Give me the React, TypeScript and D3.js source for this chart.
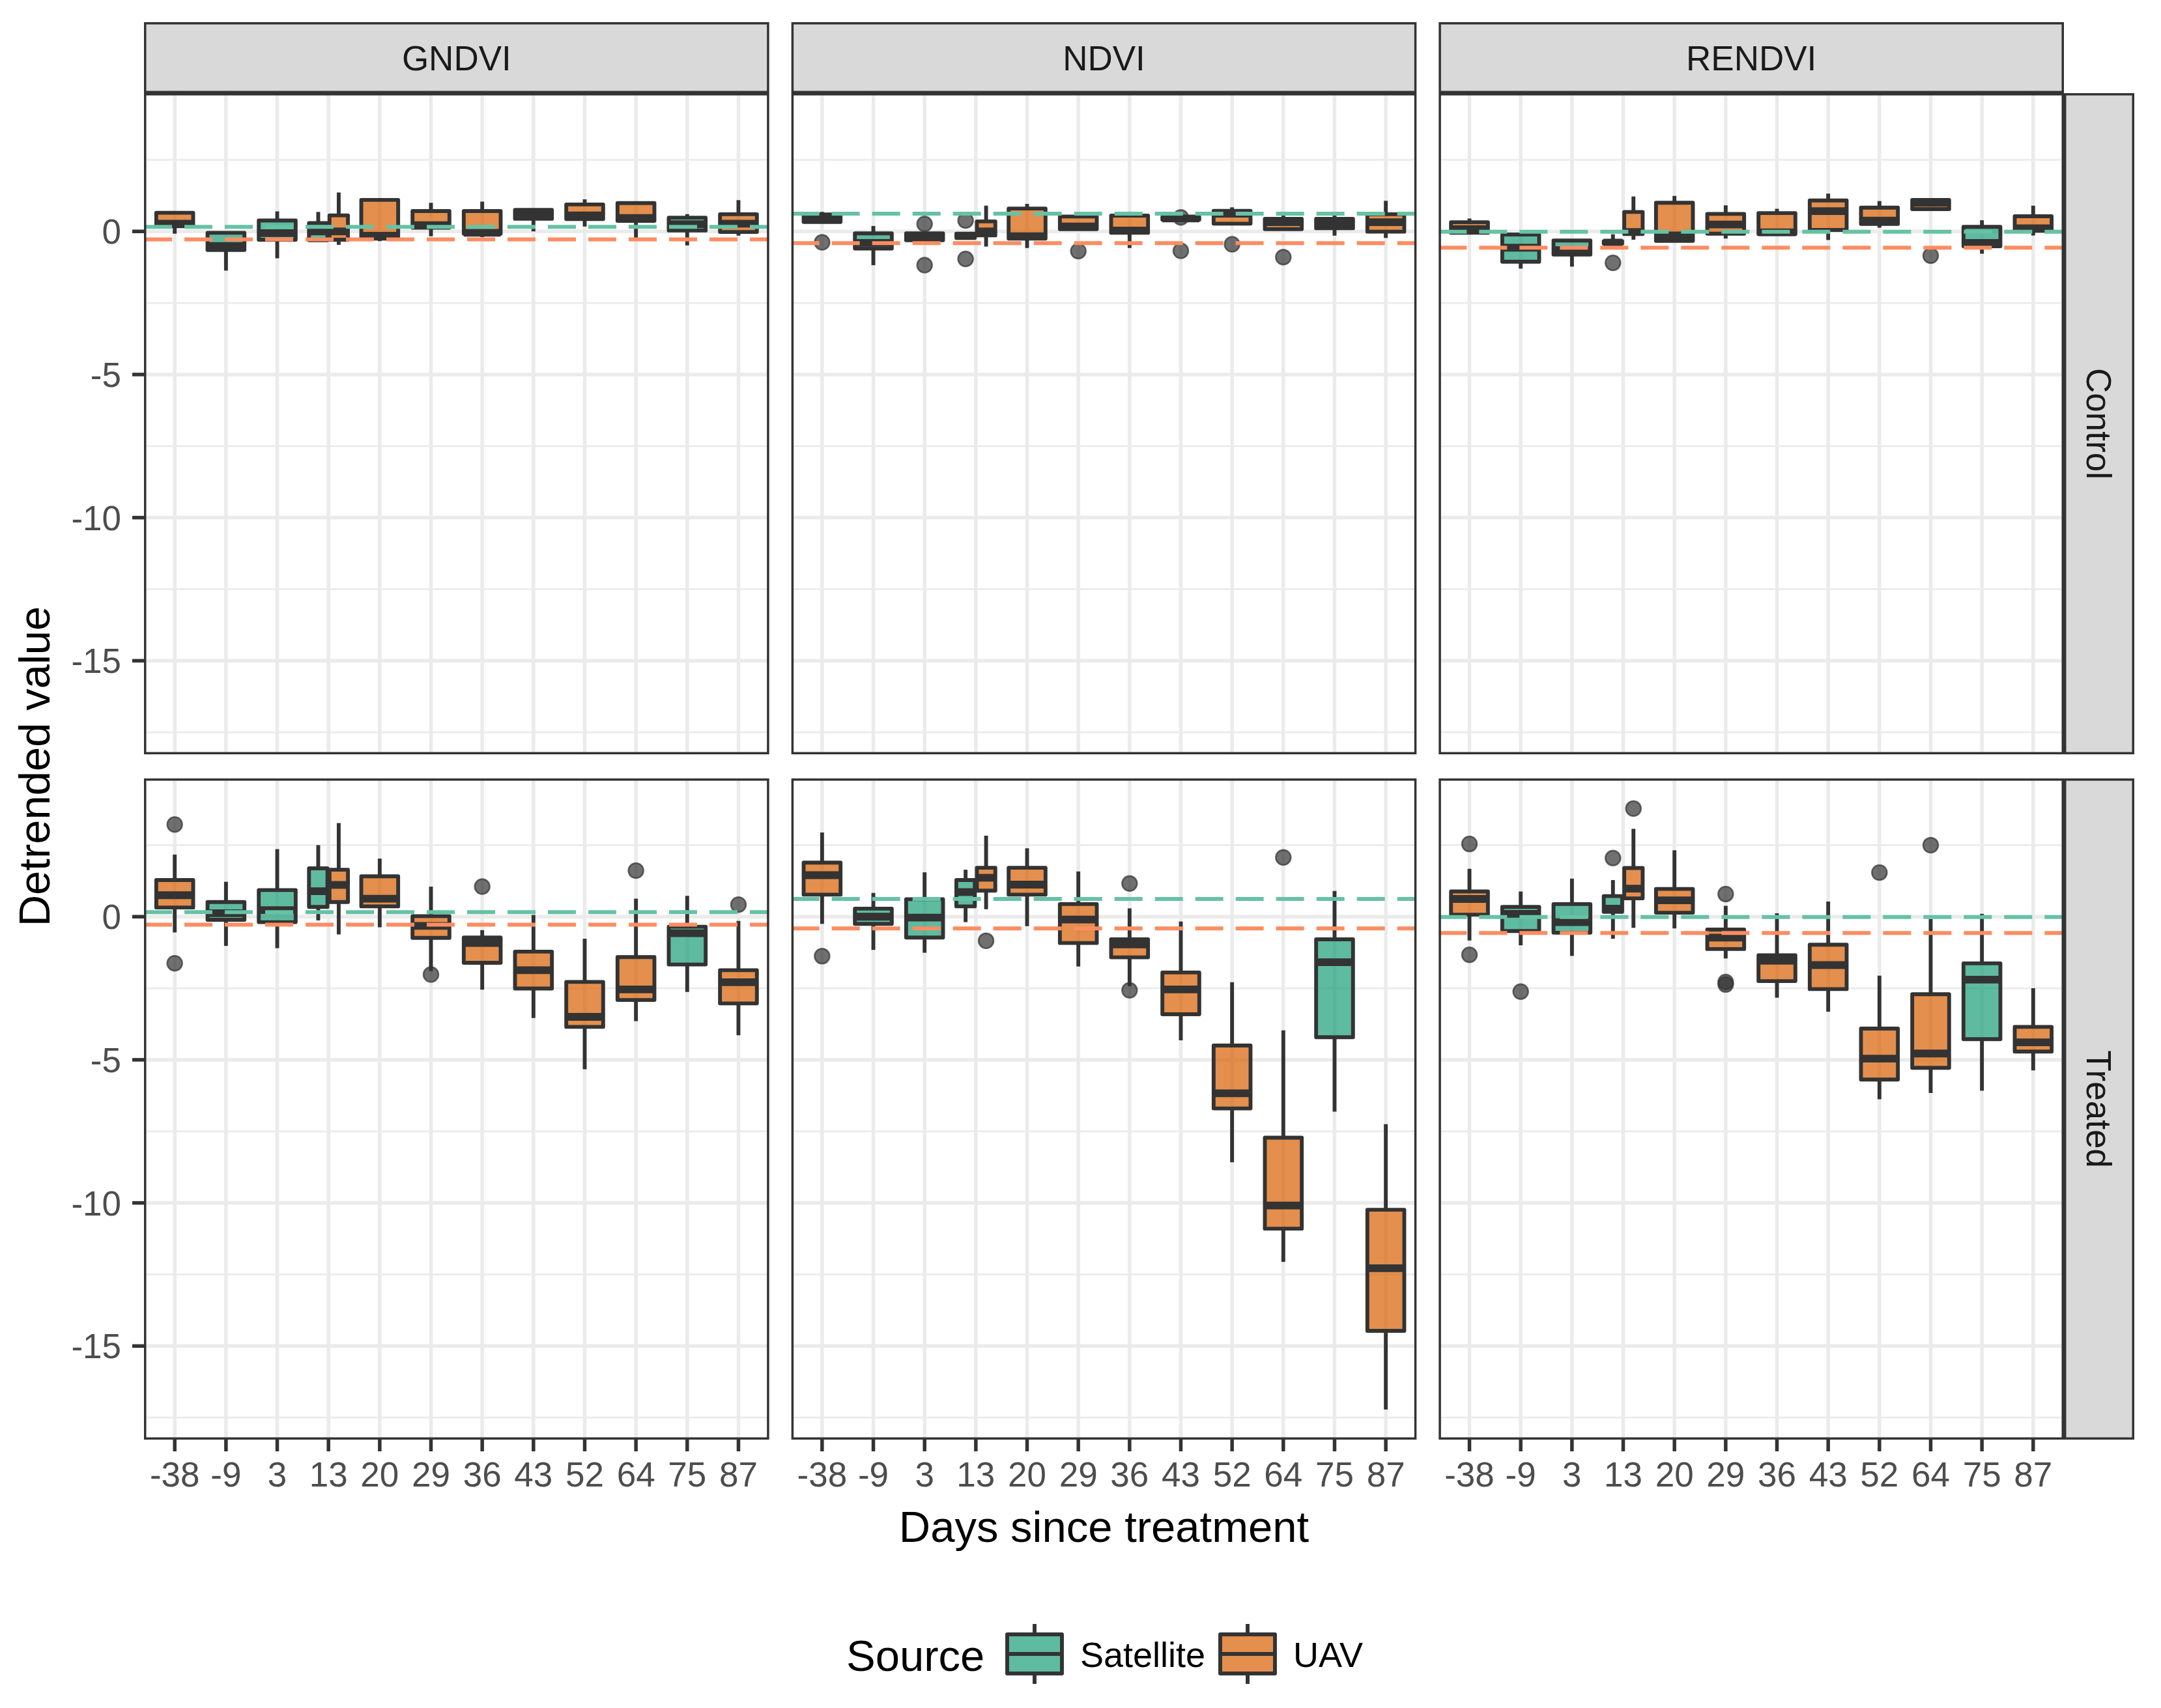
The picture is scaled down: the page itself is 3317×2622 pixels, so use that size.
import React from "react";
import * as d3 from "d3";

// ---------- data ----------
const days = ["-38", "-9", "3", "13", "20", "29", "36", "43", "52", "64", "75", "87"];
const indices = ["GNDVI", "NDVI", "RENDVI"];
const treatments = ["Control", "Treated"];
const sources = ["Satellite", "UAV"];
const sourceFill = ["#1B9E77", "#D95F02"];
const meanLineColor = ["#66C2A5", "#FC8D62"];
const meanSatellite = [0.16, 0.62, -0.01];
const meanUAV = [-0.28, -0.41, -0.57];
const yTicks = [-15, -10, -5, 0];
const yMinorTicks = [-17.5, -12.5, -7.5, -2.5, 2.5];

// [day, source, lower whisker, q1, median, q3, upper whisker, outliers]
type Box = [string, string, number, number, number, number, number, number[]];

const gndviControl: Box[] = [
  ["-38", "UAV", -0.08, 0.18, 0.27, 0.65, 0.65, []],
  ["-9", "Satellite", -1.37, -0.65, -0.51, -0.05, -0.05, []],
  ["3", "Satellite", -0.94, -0.29, -0.06, 0.38, 0.7, []],
  ["13", "Satellite", -0.31, -0.31, 0.0, 0.29, 0.68, []],
  ["13", "UAV", -0.47, -0.29, 0.0, 0.56, 1.36, []],
  ["20", "UAV", -0.34, -0.25, -0.15, 1.1, 1.1, []],
  ["29", "UAV", -0.17, 0.13, 0.22, 0.71, 1.0, []],
  ["36", "UAV", -0.2, -0.08, -0.05, 0.71, 1.04, []],
  ["43", "UAV", 0.0, 0.44, 0.6, 0.75, 0.75, []],
  ["52", "UAV", 0.17, 0.43, 0.56, 0.94, 1.12, []],
  ["64", "UAV", -0.23, 0.37, 0.47, 0.99, 0.99, []],
  ["75", "Satellite", -0.49, 0.03, 0.25, 0.48, 0.6, []],
  ["87", "UAV", -0.15, -0.02, 0.27, 0.6, 1.09, []],
];

const ndviControl: Box[] = [
  ["-38", "UAV", 0.33, 0.33, 0.46, 0.59, 0.68, [-0.38]],
  ["-9", "Satellite", -1.18, -0.6, -0.4, -0.07, 0.19, []],
  ["3", "Satellite", -0.31, -0.31, -0.19, -0.07, -0.07, [0.26, -1.18]],
  ["13", "Satellite", -0.23, -0.23, -0.16, -0.08, -0.08, [0.38, -0.96]],
  ["13", "UAV", -0.53, -0.14, 0.0, 0.35, 0.9, []],
  ["20", "UAV", -0.58, -0.25, -0.17, 0.8, 0.96, []],
  ["29", "UAV", 0.08, 0.08, 0.17, 0.52, 0.52, [-0.69]],
  ["36", "UAV", -0.58, -0.05, 0.03, 0.55, 0.69, []],
  ["43", "UAV", 0.41, 0.41, 0.45, 0.5, 0.5, [0.49, -0.68]],
  ["52", "UAV", 0.27, 0.27, 0.62, 0.72, 0.84, [-0.45]],
  ["64", "UAV", 0.08, 0.08, 0.32, 0.44, 0.55, [-0.9]],
  ["75", "Satellite", -0.15, 0.11, 0.28, 0.44, 0.55, []],
  ["87", "UAV", -0.23, -0.01, 0.32, 0.6, 1.07, []],
];

const rendviControl: Box[] = [
  ["-38", "UAV", -0.05, -0.05, 0.08, 0.32, 0.45, []],
  ["-9", "Satellite", -1.3, -1.06, -0.57, -0.11, -0.11, []],
  ["3", "Satellite", -1.23, -0.81, -0.65, -0.32, -0.32, []],
  ["13", "Satellite", -0.43, -0.43, -0.39, -0.34, -0.1, [-1.1]],
  ["13", "UAV", -0.29, -0.09, -0.02, 0.68, 1.22, []],
  ["20", "UAV", -0.33, -0.33, -0.14, 1.0, 1.24, []],
  ["29", "UAV", -0.25, -0.08, 0.24, 0.61, 0.91, []],
  ["36", "UAV", -0.09, -0.09, -0.03, 0.64, 0.79, []],
  ["43", "UAV", -0.3, 0.05, 0.71, 1.08, 1.32, []],
  ["52", "UAV", 0.13, 0.26, 0.38, 0.83, 1.06, []],
  ["64", "UAV", 0.78, 0.78, 1.0, 1.1, 1.1, [-0.85]],
  ["75", "Satellite", -0.78, -0.52, -0.4, 0.16, 0.39, []],
  ["87", "UAV", -0.14, 0.02, 0.11, 0.53, 0.9, []],
];

const gndviTreated: Box[] = [
  ["-38", "UAV", -0.55, 0.32, 0.75, 1.28, 2.17, [3.22, -1.63]],
  ["-9", "Satellite", -1.02, -0.11, 0.12, 0.51, 1.22, []],
  ["3", "Satellite", -1.1, -0.19, 0.23, 0.93, 2.36, []],
  ["13", "Satellite", -0.13, 0.34, 0.89, 1.69, 2.5, []],
  ["13", "UAV", -0.62, 0.51, 1.11, 1.64, 3.27, []],
  ["20", "UAV", -0.37, 0.36, 0.63, 1.41, 2.03, []],
  ["29", "UAV", -1.9, -0.74, -0.32, 0.02, 1.05, [-2.02]],
  ["36", "UAV", -2.55, -1.61, -0.92, -0.73, -0.47, [1.05]],
  ["43", "UAV", -3.54, -2.51, -1.87, -1.22, 0.06, []],
  ["52", "UAV", -5.33, -3.85, -3.5, -2.28, -0.77, []],
  ["64", "UAV", -3.65, -2.91, -2.54, -1.41, 0.63, [1.61]],
  ["75", "Satellite", -2.63, -1.67, -0.58, -0.35, 0.73, []],
  ["87", "UAV", -4.14, -3.03, -2.29, -1.87, -0.15, [0.42]],
];

const ndviTreated: Box[] = [
  ["-38", "UAV", -0.25, 0.77, 1.45, 1.89, 2.94, [-1.38]],
  ["-9", "Satellite", -1.16, -0.25, 0.0, 0.28, 0.83, []],
  ["3", "Satellite", -1.26, -0.73, -0.03, 0.61, 1.55, []],
  ["13", "Satellite", -0.19, 0.36, 0.86, 1.28, 1.64, []],
  ["13", "UAV", 0.26, 0.91, 1.36, 1.71, 2.83, [-0.84]],
  ["20", "UAV", -0.33, 0.77, 1.12, 1.71, 2.39, []],
  ["29", "UAV", -1.74, -0.92, -0.1, 0.44, 1.58, []],
  ["36", "UAV", -2.43, -1.42, -0.97, -0.79, 0.29, [1.16, -2.57]],
  ["43", "UAV", -4.32, -3.41, -2.54, -1.95, -0.17, []],
  ["52", "UAV", -8.58, -6.7, -6.17, -4.5, -2.29, []],
  ["64", "UAV", -12.06, -10.9, -10.09, -7.72, -3.97, [2.07]],
  ["75", "Satellite", -6.81, -4.21, -1.59, -0.79, 0.9, []],
  ["87", "UAV", -17.22, -14.47, -12.28, -10.24, -7.25, []],
];

const rendviTreated: Box[] = [
  ["-38", "UAV", -0.83, 0.07, 0.62, 0.88, 1.67, [2.54, -1.33]],
  ["-9", "Satellite", -1.0, -0.5, 0.1, 0.34, 0.88, [-2.62]],
  ["3", "Satellite", -1.37, -0.56, -0.19, 0.44, 1.33, []],
  ["13", "Satellite", -0.77, 0.17, 0.28, 0.72, 1.28, [2.05]],
  ["13", "UAV", -0.39, 0.64, 0.98, 1.7, 3.07, [3.78]],
  ["20", "UAV", -0.41, 0.14, 0.57, 0.97, 2.32, []],
  ["29", "UAV", -1.46, -1.13, -0.73, -0.45, 0.38, [0.79, -2.28, -2.37]],
  ["36", "UAV", -2.83, -2.25, -1.54, -1.35, 0.12, []],
  ["43", "UAV", -3.32, -2.53, -1.69, -0.98, 0.53, []],
  ["52", "UAV", -6.38, -5.69, -4.96, -3.91, -2.06, [1.54]],
  ["64", "UAV", -6.16, -5.28, -4.78, -2.71, -0.08, [2.5]],
  ["75", "Satellite", -6.08, -4.28, -2.2, -1.63, 0.1, []],
  ["87", "UAV", -5.37, -4.71, -4.39, -3.85, -2.5, []],
];

const panels: Box[][][] = [
  [gndviControl, ndviControl, rendviControl],
  [gndviTreated, ndviTreated, rendviTreated],
];

// ---------- layout ----------
const W = 3317;
const H = 2622;
const plotLeft = 221;
const plotRight = 3168;
const colGap = 34;
const panelW = (plotRight - plotLeft - 2 * colGap) / 3;
const plotTop = 143;
const plotBottom = 2210;
const rowGap = 37;
const panelH = (plotBottom - plotTop - rowGap) / 2;
const stripH = 109;
const stripW = 108;
const font = "'Liberation Sans', Arial, Helvetica, sans-serif";
const dark = "#333333";
const grid = "#EBEBEB";

const allVals: number[] = [];
panels.flat().flat().forEach((b) => {
  allVals.push(b[2], b[6], ...b[7]);
});
const [vMin, vMax] = d3.extent(allVals) as [number, number];
const pad = (vMax - vMin) * 0.05;

const x = d3.scalePoint<string>().domain(days).range([0, panelW]).padding(0.6);
const y = d3.scaleLinear().domain([vMin - pad, vMax + pad]).range([panelH, 0]);
const step = x.step();

function Panel({ data, col, row }: { data: Box[]; col: number; row: number }) {
  const px = plotLeft + col * (panelW + colGap);
  const py = plotTop + row * (panelH + rowGap);
  const clipId = `clip-${row}-${col}`;
  const dash = "43 19";
  return (
    <g transform={`translate(${px},${py})`}>
      <defs>
        <clipPath id={clipId}>
          <rect x={0} y={0} width={panelW} height={panelH} />
        </clipPath>
      </defs>
      <g clipPath={`url(#${clipId})`}>
        <rect x={0} y={0} width={panelW} height={panelH} fill="#FFFFFF" />
        {yMinorTicks.map((t) => (
          <line key={`mi${t}`} x1={0} x2={panelW} y1={y(t)} y2={y(t)} stroke={grid} strokeWidth={2.75} />
        ))}
        {yTicks.map((t) => (
          <line key={`ma${t}`} x1={0} x2={panelW} y1={y(t)} y2={y(t)} stroke={grid} strokeWidth={5.5} />
        ))}
        {days.map((d) => (
          <line key={`v${d}`} x1={x(d)} x2={x(d)} y1={0} y2={panelH} stroke={grid} strokeWidth={5.5} />
        ))}
        {data.map((b, i) => {
          const [day, src, lo, q1, med, q3, hi, outs] = b;
          const sibs = data.filter((o) => o[0] === day).sort((a, c) => sources.indexOf(a[1]) - sources.indexOf(c[1]));
          const n = sibs.length;
          const k = sibs.indexOf(b);
          const total = 0.8 * step;
          const slot = total / n;
          const cx = (x(day) as number) - total / 2 + slot * (k + 0.5);
          const bw = slot * 0.9;
          const si = sources.indexOf(src);
          return (
            <g key={i}>
              {outs.map((o, j) => (
                <circle key={j} cx={cx} cy={y(o)} r={11.5} fill={dark} fillOpacity={0.7} stroke={dark} strokeOpacity={0.7} strokeWidth={2.5} />
              ))}
              <line x1={cx} x2={cx} y1={y(hi)} y2={y(q3)} stroke={dark} strokeWidth={5.9} />
              <line x1={cx} x2={cx} y1={y(q1)} y2={y(lo)} stroke={dark} strokeWidth={5.9} />
              <rect x={cx - bw / 2} y={y(q3)} width={bw} height={Math.max(0, y(q1) - y(q3))} fill={sourceFill[si]} fillOpacity={0.7} stroke={dark} strokeWidth={5.9} strokeLinejoin="round" />
              <line x1={cx - bw / 2} x2={cx + bw / 2} y1={y(med)} y2={y(med)} stroke={dark} strokeWidth={11.8} />
            </g>
          );
        })}
        <line x1={0} x2={panelW} y1={y(meanSatellite[col])} y2={y(meanSatellite[col])} stroke={meanLineColor[0]} strokeWidth={6} strokeDasharray={dash} />
        <line x1={0} x2={panelW} y1={y(meanUAV[col])} y2={y(meanUAV[col])} stroke={meanLineColor[1]} strokeWidth={6} strokeDasharray={dash} />
      </g>
      <rect x={1.75} y={1.75} width={panelW - 3.5} height={panelH - 3.5} fill="none" stroke={dark} strokeWidth={3.5} />
      {col === 0 &&
        yTicks.map((t) => (
          <g key={`yt${t}`}>
            <line x1={-18} x2={0} y1={y(t)} y2={y(t)} stroke={dark} strokeWidth={5.5} />
            <text x={-35} y={y(t)} dy="0.36em" textAnchor="end" fontSize={53} fill="#4D4D4D" fontFamily={font}>
              {t}
            </text>
          </g>
        ))}
      {row === 1 &&
        days.map((d) => (
          <g key={`xt${d}`}>
            <line x1={x(d)} x2={x(d)} y1={panelH} y2={panelH + 18} stroke={dark} strokeWidth={5.5} />
            <text x={x(d)} y={panelH + 72} textAnchor="middle" fontSize={53} fill="#4D4D4D" fontFamily={font}>
              {d}
            </text>
          </g>
        ))}
    </g>
  );
}

function LegendKey({ x0, si }: { x0: number; si: number }) {
  const bw = 84;
  const top = 2509;
  const bot = 2569;
  const cx = x0 + bw / 2;
  return (
    <g>
      <line x1={cx} x2={cx} y1={2493} y2={top} stroke={dark} strokeWidth={5.9} />
      <line x1={cx} x2={cx} y1={bot} y2={2585} stroke={dark} strokeWidth={5.9} />
      <rect x={x0} y={top} width={bw} height={bot - top} fill={sourceFill[si]} fillOpacity={0.7} stroke={dark} strokeWidth={5.9} strokeLinejoin="round" />
      <line x1={x0} x2={x0 + bw} y1={(top + bot) / 2} y2={(top + bot) / 2} stroke={dark} strokeWidth={5.9} />
    </g>
  );
}

export default function App() {
  return (
    <svg width={W} height={H} viewBox={`0 0 ${W} ${H}`} style={{ position: "absolute", left: 0, top: 0, display: "block", background: "#FFFFFF" }}>
      <rect x={0} y={0} width={W} height={H} fill="#FFFFFF" />
      {/* top strips */}
      {indices.map((name, c) => {
        const px = plotLeft + c * (panelW + colGap);
        return (
          <g key={name}>
            <rect x={px + 1.75} y={plotTop - stripH + 1.75} width={panelW - 3.5} height={stripH - 3.5} fill="#D9D9D9" stroke={dark} strokeWidth={3.5} />
            <text x={px + panelW / 2} y={plotTop - stripH / 2} dy="0.36em" textAnchor="middle" fontSize={53} fill="#1A1A1A" fontFamily={font}>
              {name}
            </text>
          </g>
        );
      })}
      {/* right strips */}
      {treatments.map((name, r) => {
        const py = plotTop + r * (panelH + rowGap);
        const cx = plotRight + stripW / 2;
        const cy = py + panelH / 2;
        return (
          <g key={name}>
            <rect x={plotRight + 1.75} y={py + 1.75} width={stripW - 3.5} height={panelH - 3.5} fill="#D9D9D9" stroke={dark} strokeWidth={3.5} />
            <text x={cx} y={cy} dy="0.36em" textAnchor="middle" fontSize={53} fill="#1A1A1A" fontFamily={font} transform={`rotate(90,${cx},${cy})`}>
              {name}
            </text>
          </g>
        );
      })}
      {panels.map((rowData, r) => rowData.map((data, c) => <Panel key={`${r}-${c}`} data={data} col={c} row={r} />))}
      {/* axis titles */}
      <text x={(plotLeft + plotRight) / 2} y={2367} textAnchor="middle" fontSize={67} fill="#000000" fontFamily={font}>
        Days since treatment
      </text>
      <text x={76} y={(plotTop + plotBottom) / 2} textAnchor="middle" fontSize={67} fill="#000000" fontFamily={font} transform={`rotate(-90,76,${(plotTop + plotBottom) / 2})`}>
        Detrended value
      </text>
      {/* legend */}
      <text x={1299} y={2565} fontSize={67} fill="#000000" fontFamily={font}>
        Source
      </text>
      <LegendKey x0={1546} si={0} />
      <text x={1658} y={2559} fontSize={54} fill="#000000" fontFamily={font}>
        {sources[0]}
      </text>
      <LegendKey x0={1873} si={1} />
      <text x={1985} y={2559} fontSize={54} fill="#000000" fontFamily={font}>
        {sources[1]}
      </text>
    </svg>
  );
}
